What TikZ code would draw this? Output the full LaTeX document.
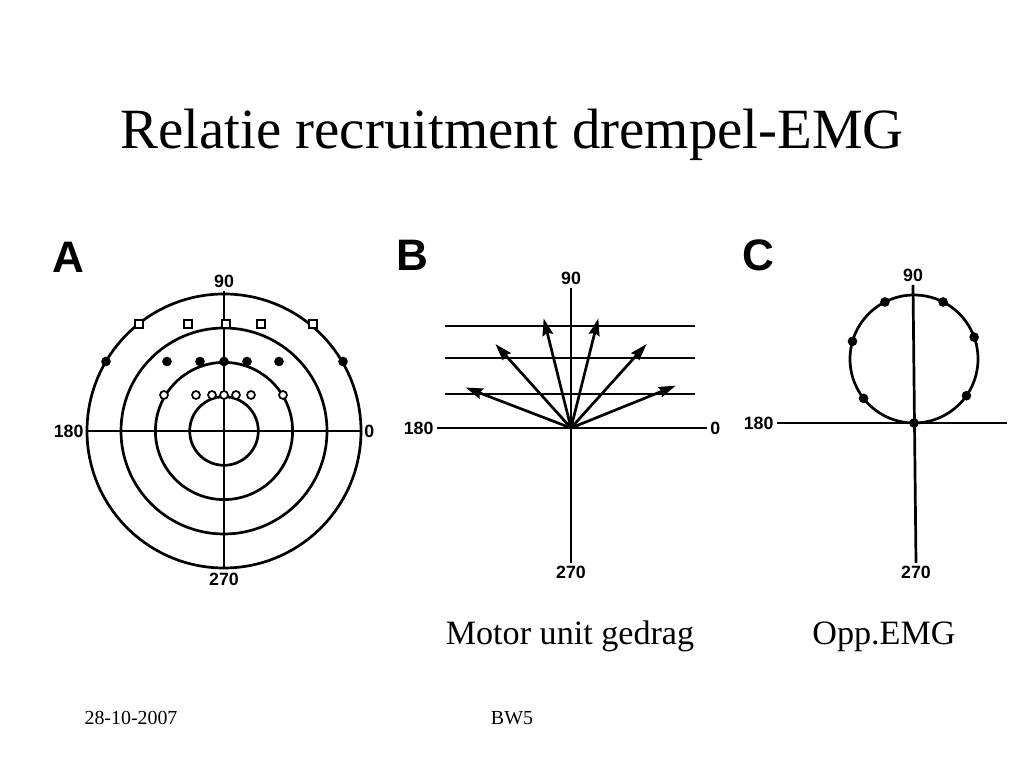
\documentclass[tikz,border=0pt]{standalone}
\usepackage{fontspec}
\setmainfont{Liberation Serif}
\newfontfamily\figfont{Liberation Sans}
\usetikzlibrary{arrows.meta}

\begin{document}
\begin{tikzpicture}[x=0.703125pt, y=0.703125pt, line width=1.9pt,
  panel/.style={font=\figfont\bfseries\fontsize{31}{31}\selectfont, inner sep=0pt},
  deg/.style={font=\figfont\bfseries\fontsize{12.5}{13}\selectfont, inner sep=1.5pt},
  capt/.style={font=\fontsize{24}{28}\selectfont, anchor=base},
  foot/.style={font=\fontsize{14}{16}\selectfont},
  opensq/.style={draw, line width=1.2pt, fill=white, minimum size=5.8pt, inner sep=0pt},
  fdot/.style={circle, fill, minimum size=6.8pt, inner sep=0pt},
  odot/.style={circle, draw, line width=1.2pt, fill=white, minimum size=5.6pt, inner sep=0pt},
  arr/.style={-{Stealth[length=12pt, width=7.5pt, inset=1.5pt]}}]
  \useasboundingbox [fill=white] (0,0) rectangle (1024,768);

  \node (title) at (512,633) {\fontsize{40}{48}\selectfont Relatie recruitment drempel-EMG};

  % A
  \node [panel] (lA) at (68,511) {A};
  \coordinate (oA) at (224,337);
  \coordinate (wA) at (87,337);
  \coordinate (eA) at (361,337);
  \coordinate (nA) at (224,477);
  \coordinate (sA) at (224,201);
  \foreach \r in {34.3,68.6,103,137} \draw (oA) circle (\r);
  \draw (wA) -- (eA);
  \draw (nA) -- (sA);
  \node [deg, left] (a180) at (wA) {180};
  \node [deg, right] (a0) at (eA) {0};
  \node [deg, above] (a90) at (nA) {90};
  \node [deg, below, inner sep=3pt] (a270) at (sA) {270};
  \foreach \x [count=\i] in {139,188,226,261,313}
    \node [opensq] (sq\i) at (\x,444) {};
  \foreach \x [count=\i] in {106,167,200,224,247,279,343}
    \node [fdot] (fd\i) at (\x,406.5) {};
  \foreach \x [count=\i] in {164,196,212,224,236,251,283}
    \node [odot] (od\i) at (\x,373) {};

  % B
  \node [panel] (lB) at (412,513) {B};
  \coordinate (oB) at (571,340);
  \coordinate (wB) at (437,340);
  \coordinate (eB) at (707,340);
  \coordinate (nB) at (571,480);
  \coordinate (sB) at (571,205);
  \foreach \y in {442,410,374} \draw (445,\y) -- (695,\y);
  \draw (wB) -- (eB);
  \draw (nB) -- (sB);
  \node [deg, left] (b180) at (wB) {180};
  \node [deg, right] (b0) at (eB) {0};
  \node [deg, above] (b90) at (nB) {90};
  \node [deg, below] (b270) at (sB) {270};
  \foreach \a [count=\i] in {22,48,76,104,132,159}
    \draw [arr] (oB) -- ++(\a:113) coordinate (tip\i);

  % C
  \node [panel] (lC) at (758,513) {C};
  \coordinate (oC) at (915,345);
  \coordinate (cC) at (914,409);
  \coordinate (wC) at (777,345);
  \coordinate (eC) at (1007,345);
  \coordinate (nC) at (913,483);
  \coordinate (sC) at (916,205);
  \draw (wC) -- (eC);
  \draw (nC) -- (sC);
  \draw (cC) circle (64);
  \node [deg, left] (c180) at (wC) {180};
  \node [deg, above] (c90) at (nC) {90};
  \node [deg, below] (c270) at (sC) {270};
  \foreach \a [count=\i] in {20,63,117,164,218,325,270}
    \node [fdot] (cd\i) at ([shift={(\a:64)}]cC) {};

  \node [capt] (mu) at (570,123) {Motor unit gedrag};
  \node [capt] (emg) at (884,123) {Opp.EMG};
  \node [foot] (date) at (131,50) {28-10-2007};
  \node [foot] (bw) at (512,50) {BW5};
\end{tikzpicture}
\end{document}
